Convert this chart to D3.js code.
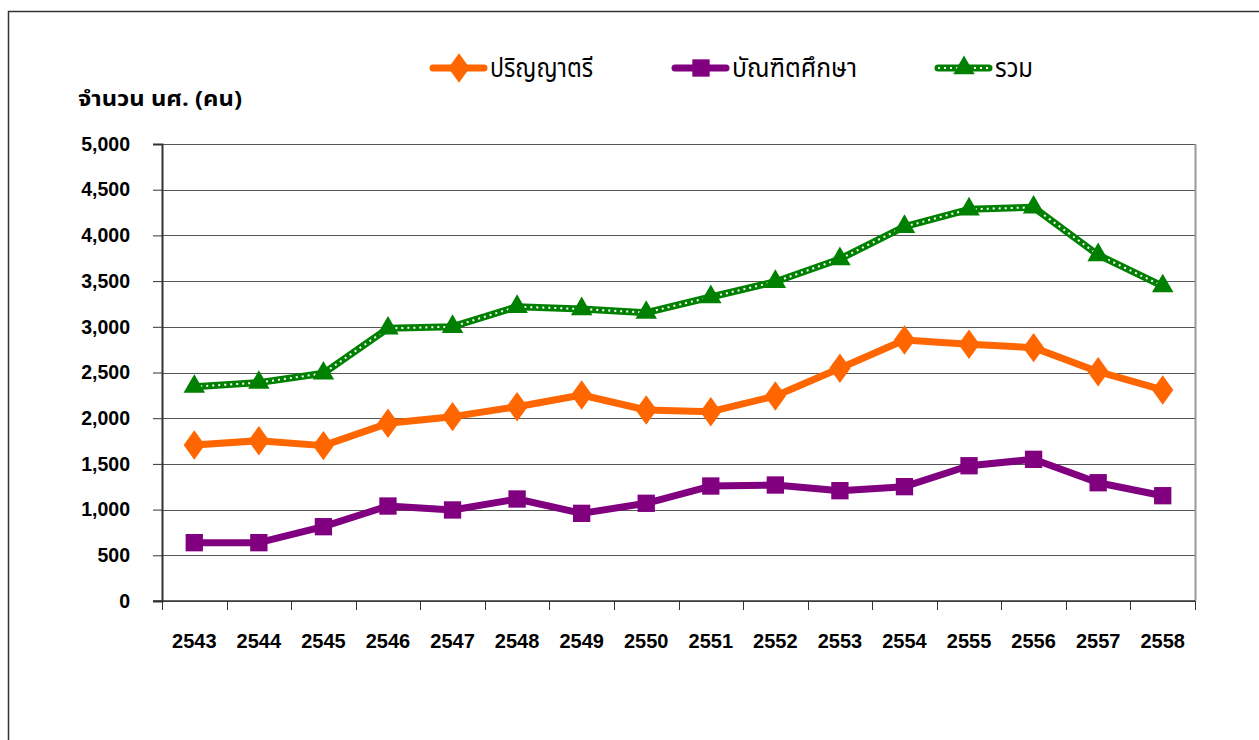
<!DOCTYPE html>
<html>
<head>
<meta charset="utf-8">
<script src="https://cdn.jsdelivr.net/npm/d3@7/dist/d3.min.js"></script>
<style>
  body { margin: 0; background: #fff; }
  .thai { font-family: "Noto Sans Thai", "Loma", "Garuda", "Tahoma", sans-serif; }
</style>
</head>
<body>
<div id="chart"></div>
<script>
// data
var years = ["2543","2544","2545","2546","2547","2548","2549","2550","2551","2552","2553","2554","2555","2556","2557","2558"];
var bachelor = [1707, 1754, 1700, 1944, 2017, 2126, 2254, 2090, 2071, 2243, 2546, 2856, 2809, 2772, 2509, 2309];
var graduate = [638, 638, 813, 1039, 996, 1116, 959, 1069, 1258, 1269, 1207, 1251, 1480, 1550, 1294, 1152];
var total = [2345, 2389, 2491, 2983, 3001, 3220, 3195, 3155, 3326, 3493, 3742, 4095, 4286, 4307, 3786, 3446];
var yTicks = [0, 500, 1000, 1500, 2000, 2500, 3000, 3500, 4000, 4500, 5000];

var seriesNames = ["ปริญญาตรี", "บัณฑิตศึกษา", "รวม"];
var yTitle = "จำนวน นศ. (คน)";

var width = 1259, height = 740;
var margin = { top: 144, right: 64, bottom: 139, left: 162 };
var w = width - margin.left - margin.right,
    h = height - margin.top - margin.bottom;

var numFont = '"Liberation Sans", Arial, sans-serif';

var svg = d3.select("#chart").append("svg")
    .attr("width", width)
    .attr("height", height);

// outer frame
svg.append("rect")
    .attr("x", 8.5).attr("y", 11.5)
    .attr("width", width + 20).attr("height", height + 20)
    .attr("fill", "none").attr("stroke", "#333").attr("stroke-width", 1.5);

var g = svg.append("g")
    .attr("transform", "translate(" + margin.left + "," + margin.top + ")");

// scales
var x = d3.scaleBand().domain(years).range([0, w]);
var y = d3.scaleLinear().domain([0, 5000]).range([h, 0]);

// gridlines
g.append("g")
    .selectAll("line")
    .data(yTicks)
    .enter().append("line")
    .attr("x1", 0).attr("x2", w)
    .attr("y1", function(d) { return Math.round(y(d)) + 0.5; })
    .attr("y2", function(d) { return Math.round(y(d)) + 0.5; })
    .attr("stroke", "#555").attr("stroke-width", 1.2);

// right border of plot
g.append("line")
    .attr("x1", w + 0.5).attr("x2", w + 0.5)
    .attr("y1", 0).attr("y2", h)
    .attr("stroke", "#999").attr("stroke-width", 2);

// y axis
var yAxis = d3.axisLeft(y)
    .tickValues(yTicks)
    .tickSize(9)
    .tickPadding(23)
    .tickFormat(d3.format(","));

g.append("g")
    .attr("class", "axis y-axis")
    .call(yAxis)
    .call(function(s) {
        s.select(".domain").attr("stroke", "#333").attr("stroke-width", 2);
        s.selectAll(".tick line").attr("stroke", "#333");
        s.selectAll(".tick text")
            .attr("font-family", numFont).attr("font-weight", "bold")
            .attr("font-size", 19.5).attr("fill", "#000");
    });

// x axis: ticks on band boundaries
g.append("g")
    .attr("class", "axis x-axis")
    .attr("transform", "translate(0," + h + ")")
    .call(function(s) {
        s.append("line")
            .attr("x1", -9).attr("x2", w)
            .attr("stroke", "#333").attr("stroke-width", 1.5);
        var bounds = years.map(function(d) { return x(d); }).concat([w]);
        s.selectAll(".xt").data(bounds).enter().append("line")
            .attr("class", "xt")
            .attr("x1", function(d) { return Math.round(d) + 0.5; })
            .attr("x2", function(d) { return Math.round(d) + 0.5; })
            .attr("y1", 0).attr("y2", 9)
            .attr("stroke", "#333");
        s.selectAll("text").data(years).enter().append("text")
            .attr("x", function(d) { return x(d) + x.bandwidth() / 2; })
            .attr("y", 47)
            .attr("text-anchor", "middle")
            .attr("font-family", numFont).attr("font-weight", "bold")
            .attr("font-size", 20).attr("fill", "#000")
            .text(function(d) { return d; });
    });

// y title
svg.append("text")
    .attr("class", "thai")
    .attr("x", 78).attr("y", 106)
    .attr("font-size", 22).attr("font-weight", "bold")
    .attr("textLength", 164).attr("lengthAdjust", "spacingAndGlyphs")
    .text(yTitle);

var line = d3.line()
    .x(function(d, i) { return x(years[i]) + x.bandwidth() / 2; })
    .y(function(d) { return y(d); });

var cx = function(d, i) { return x(years[i]) + x.bandwidth() / 2; };

// total (green, dotted)
g.append("path").datum(total)
    .attr("d", line).attr("fill", "none")
    .attr("stroke", "#008000").attr("stroke-width", 7).attr("stroke-linejoin", "round");
g.append("path").datum(total)
    .attr("d", line).attr("fill", "none")
    .attr("stroke", "#fff").attr("stroke-width", 2).attr("stroke-dasharray", "2,4");

// bachelor (orange)
g.append("path").datum(bachelor)
    .attr("d", line).attr("fill", "none")
    .attr("stroke", "#ff6600").attr("stroke-width", 7).attr("stroke-linejoin", "round");

// graduate (purple)
g.append("path").datum(graduate)
    .attr("d", line).attr("fill", "none")
    .attr("stroke", "#800080").attr("stroke-width", 7).attr("stroke-linejoin", "round");

var diamond = d3.symbol().type(d3.symbolDiamond).size(250);
var square = d3.symbol().type(d3.symbolSquare).size(300);
var triangle = d3.symbol().type(d3.symbolTriangle).size(200);

g.selectAll(".m-tot").data(total).enter().append("path")
    .attr("d", triangle).attr("fill", "#008000")
    .attr("transform", function(d, i) { return "translate(" + cx(d, i) + "," + y(d) + ")"; });

g.selectAll(".m-bach").data(bachelor).enter().append("path")
    .attr("d", diamond).attr("fill", "#ff6600")
    .attr("transform", function(d, i) { return "translate(" + cx(d, i) + "," + y(d) + ") scale(1.25,1)"; });

g.selectAll(".m-grad").data(graduate).enter().append("path")
    .attr("d", square).attr("fill", "#800080")
    .attr("transform", function(d, i) { return "translate(" + cx(d, i) + "," + y(d) + ")"; });

// legend
var legendX = [430, 672, 935];
var legendTextLen = [103, 125, 38];
var colors = ["#ff6600", "#800080", "#008000"];
var symbols = [diamond, square, triangle];
var legend = svg.append("g");
seriesNames.forEach(function(name, i) {
    var lg = legend.append("g").attr("transform", "translate(" + legendX[i] + ",68)");
    lg.append("line").attr("x1", 3).attr("x2", 54)
        .attr("stroke", colors[i]).attr("stroke-width", 7).attr("stroke-linecap", "round");
    if (i === 2) {
        lg.append("line").attr("x1", 3).attr("x2", 54)
            .attr("stroke", "#fff").attr("stroke-width", 2).attr("stroke-dasharray", "2,4");
    }
    lg.append("path").attr("d", symbols[i]).attr("fill", colors[i])
        .attr("transform", i === 0 ? "translate(29,0) scale(1.25,1)" : "translate(29,0)");
    lg.append("text").attr("class", "thai")
        .attr("x", 60).attr("y", 9)
        .attr("font-size", 26)
        .attr("textLength", legendTextLen[i]).attr("lengthAdjust", "spacingAndGlyphs")
        .text(name);
});
</script>
</body>
</html>
